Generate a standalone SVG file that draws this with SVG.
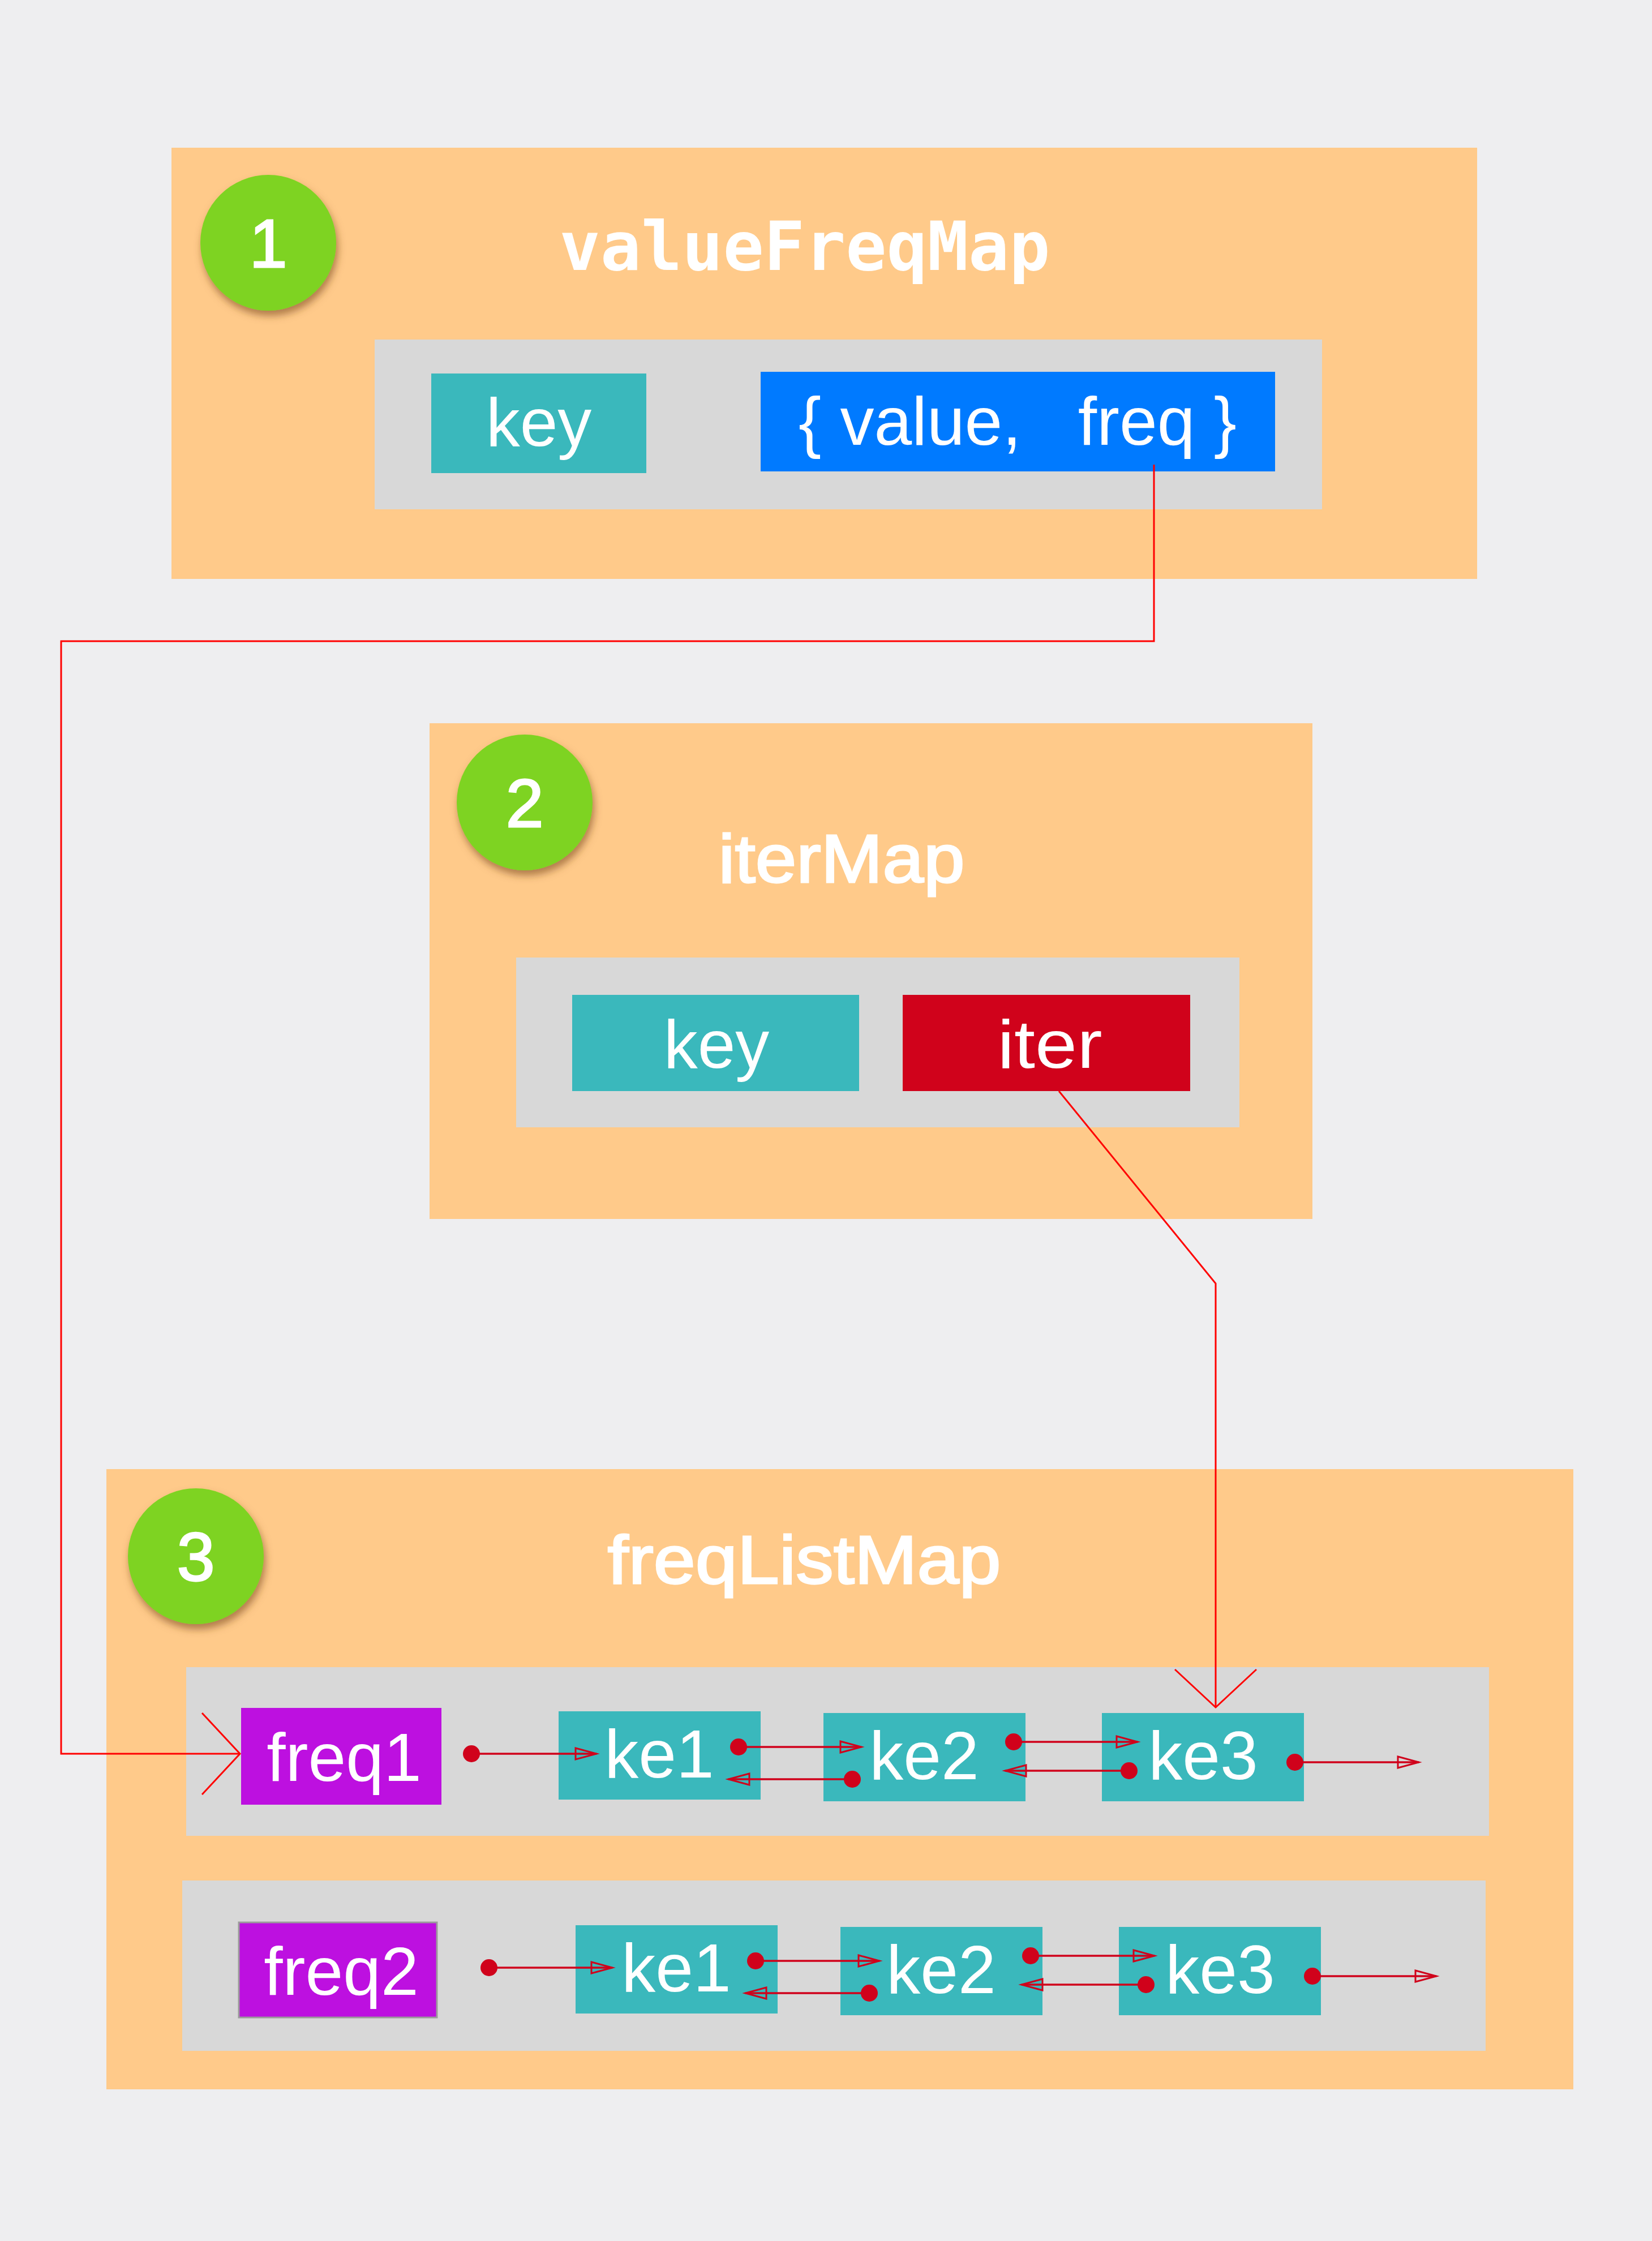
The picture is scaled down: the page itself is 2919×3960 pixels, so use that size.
<svg xmlns="http://www.w3.org/2000/svg" width="2919" height="3960" viewBox="0 0 2919 3960">
<defs>
<style>
.panel{fill:#FFCA8A}
.well{fill:#D8D8D8}
.teal{fill:#3AB8BC}
.badge{fill:#7ED321;filter:url(#shadow)}
.t{font-family:"Liberation Sans",Arial,Helvetica,sans-serif;font-size:120px;fill:#FFFFFF;text-anchor:middle}
.heavy{stroke:#FFFFFF;stroke-width:3}
.mono{font-family:"DejaVu Sans Mono","Liberation Mono",monospace;font-weight:bold;font-size:120px;fill:#FFFFFF;text-anchor:middle}
.link{fill:none;stroke:#FF0000;stroke-width:3}
.list{fill:none;stroke:#D0021B;stroke-width:3.5;marker-start:url(#dot);marker-end:url(#tri)}
</style>
<filter id="shadow" x="-30%" y="-30%" width="160%" height="170%">
<feDropShadow dx="3" dy="9" stdDeviation="7" flood-color="#7A4A1A" flood-opacity="0.6"/>
</filter>
<marker id="tri" markerUnits="userSpaceOnUse" markerWidth="46" markerHeight="30" refX="40" refY="14" orient="auto">
<path d="M3,4 L40,14 L3,24 Z" fill="none" stroke="#D0021B" stroke-width="3"/>
</marker>
<marker id="dot" markerUnits="userSpaceOnUse" markerWidth="34" markerHeight="34" refX="17" refY="17">
<circle cx="17" cy="17" r="15" fill="#D0021B"/>
</marker>
<marker id="vee" markerUnits="userSpaceOnUse" markerWidth="80" markerHeight="160" refX="70" refY="75" orient="auto">
<path d="M3,3 L70,75 L3,147" fill="none" stroke="#FF0000" stroke-width="3"/>
</marker>
</defs>
<rect x="0" y="0" width="2919" height="3960" fill="#EEEEF0"/>

<g id="valueFreqMap">
<rect class="panel" x="303" y="261" width="2307" height="762"/>
<rect class="well" x="662" y="600" width="1674" height="300"/>
<text class="mono" x="1422" y="477">valueFreqMap</text>
</g>
<g id="badge1">
<circle class="badge" cx="474" cy="429" r="120"/>
<text class="t heavy" x="474" y="472">1</text>
</g>
<g id="vf-key">
<rect class="teal" x="762" y="660" width="380" height="176"/>
<text class="t" x="952" y="788">key</text>
</g>
<g id="vf-value">
<rect x="1344" y="657" width="909" height="176" fill="#007AFF"/>
<text class="t" x="1798" y="786" xml:space="preserve" style="white-space:pre">{ value,   freq }</text>
</g>

<g id="iterMap">
<rect class="panel" x="759" y="1278" width="1560" height="876"/>
<rect class="well" x="912" y="1692" width="1278" height="300"/>
<text class="t heavy" x="1487" y="1559" textLength="435" lengthAdjust="spacingAndGlyphs">iterMap</text>
</g>
<g id="badge2">
<circle class="badge" cx="927" cy="1418" r="120"/>
<text class="t heavy" x="927" y="1461">2</text>
</g>
<g id="im-key">
<rect class="teal" x="1011" y="1758" width="507" height="170"/>
<text class="t" x="1266" y="1887">key</text>
</g>
<g id="im-iter">
<rect x="1595" y="1758" width="508" height="170" fill="#D0021B"/>
<text class="t" x="1855" y="1887" textLength="185" lengthAdjust="spacingAndGlyphs">iter</text>
</g>

<g id="freqListMap">
<rect class="panel" x="188" y="2596" width="2592" height="1096"/>
<rect class="well" x="329" y="2946" width="2302" height="298"/>
<rect class="well" x="322" y="3323" width="2303" height="301"/>
<text class="t heavy" x="1421" y="2798" textLength="695" lengthAdjust="spacingAndGlyphs">freqListMap</text>
</g>
<g id="badge3">
<circle class="badge" cx="346" cy="2750" r="120"/>
<text class="t heavy" x="346" y="2793">3</text>
</g>

<g id="freq1">
<rect x="426" y="3018" width="354" height="171" fill="#BD10E0"/>
<text class="t" x="608" y="3147">freq1</text>
</g>
<g id="r1-ke1">
<rect class="teal" x="987" y="3024" width="357" height="156"/>
<text class="t" x="1165" y="3141">ke1</text>
</g>
<g id="r1-ke2">
<rect class="teal" x="1455" y="3027" width="357" height="156"/>
<text class="t" x="1633" y="3144">ke2</text>
</g>
<g id="r1-ke3">
<rect class="teal" x="1947" y="3027" width="357" height="156"/>
<text class="t" x="2126" y="3144">ke3</text>
</g>

<g id="freq2">
<rect x="422" y="3397" width="350" height="168" fill="#BD10E0" stroke="#9B9B9B" stroke-width="3"/>
<text class="t" x="603" y="3525">freq2</text>
</g>
<g id="r2-ke1">
<rect class="teal" x="1017" y="3402" width="357" height="156"/>
<text class="t" x="1195" y="3519">ke1</text>
</g>
<g id="r2-ke2">
<rect class="teal" x="1485" y="3405" width="357" height="156"/>
<text class="t" x="1663" y="3522">ke2</text>
</g>
<g id="r2-ke3">
<rect class="teal" x="1977" y="3405" width="357" height="156"/>
<text class="t" x="2156" y="3522">ke3</text>
</g>

<g id="connectors">
<path class="link" d="M2039,821 V1133 H108 V3099 H424" marker-end="url(#vee)"/>
<path class="link" d="M1871,1928 L2148,2268 V3017" marker-end="url(#vee)"/>
<path class="list" d="M833,3099 H1054"/>
<path class="list" d="M1305,3087 H1522"/>
<path class="list" d="M1506,3144 H1287"/>
<path class="list" d="M1791,3078 H2010"/>
<path class="list" d="M1995,3129 H1776"/>
<path class="list" d="M2288,3114 H2507"/>
<path class="list" d="M864,3477 H1082"/>
<path class="list" d="M1335,3465 H1554"/>
<path class="list" d="M1536,3522 H1317"/>
<path class="list" d="M1821,3456 H2040"/>
<path class="list" d="M2025,3507 H1805"/>
<path class="list" d="M2319,3492 H2538"/>
</g>
</svg>
